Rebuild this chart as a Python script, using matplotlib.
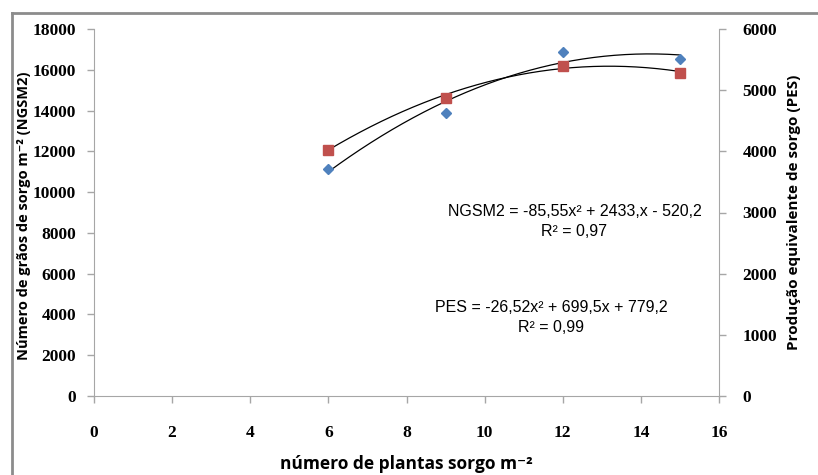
import numpy as np
import matplotlib.pyplot as plt
from matplotlib.lines import Line2D

# plants per m2
plantas = [6, 9, 12, 15]
# number of sorghum grains per m2 (left axis)
ngsm2 = [11130, 13890, 16850, 16510]
# equivalent sorghum production (right axis)
pes = [4020, 4865, 5395, 5285]

# trendline coefficients as printed on the chart
coef_ngsm2 = [-85.55, 2433, -520.2]
coef_pes = [-26.52, 699.5, 779.2]

serif = ['Liberation Serif', 'DejaVu Serif']
narrow = ['Liberation Sans Narrow', 'Liberation Sans', 'DejaVu Sans']
sans = ['Open Sans', 'DejaVu Sans']
grey = '#a6a6a6'

fig = plt.figure(figsize=(8.18, 4.75), dpi=100)
ax = fig.add_axes([94 / 818, 1 - 396 / 475, (719 - 94) / 818, (396 - 29) / 475])
ax2 = ax.twinx()

xs = np.linspace(6, 15, 200)
ax.plot(xs, np.polyval(coef_ngsm2, xs), color='black', lw=0.9, zorder=2)
ax2.plot(xs, np.polyval(coef_pes, xs), color='black', lw=0.9, zorder=2)
ax.plot(plantas, ngsm2, linestyle='none', marker='D', markersize=5.5,
        color='#4f81bd', zorder=3)
ax2.plot(plantas, pes, linestyle='none', marker='s', markersize=7.5,
         color='#c0504d', zorder=3)

ax.set_xlim(0, 16)
ax.set_ylim(0, 18000)
ax2.set_ylim(0, 6000)
ax.set_xticks(range(0, 17, 2))
ax.set_yticks(range(0, 18001, 2000))
ax2.set_yticks(range(0, 6001, 1000))

for a in (ax, ax2):
    for s in a.spines.values():
        s.set_color(grey)
    a.spines['top'].set_visible(False)
    a.tick_params(color=grey, length=5, width=1)
ax.spines['right'].set_visible(False)
ax2.spines['left'].set_visible(False)
ax2.spines['bottom'].set_visible(False)
ax.tick_params(axis='x', pad=16)
ax.tick_params(axis='y', pad=8)
ax2.tick_params(axis='y', pad=12)

for lab in ax.get_xticklabels() + ax.get_yticklabels() + ax2.get_yticklabels():
    lab.set_family(serif)
    lab.set_fontsize(12.5)
    lab.set_fontweight('bold')

ax.set_xlabel('número de plantas sorgo m⁻²', family=sans, fontsize=12.5,
              fontweight='bold', labelpad=10)
ax.set_ylabel('Número de grãos de sorgo m⁻² (NGSM2)', family=sans,
              fontsize=10.5, fontweight='bold')
ax2.set_ylabel('Produção equivalente de sorgo (PES)', family=sans,
               fontsize=11, fontweight='bold')
ax.yaxis.set_label_coords(-0.1, 0.49)
ax2.yaxis.set_label_coords(1.109, 0.5)

ax.text(12.3, 8550, 'NGSM2 = -85,55x² + 2433,x - 520,2\nR² = 0,97',
        ha='center', va='center', family=narrow, fontsize=11.5, linespacing=1.4)
ax.text(11.7, 3850, 'PES = -26,52x² + 699,5x + 779,2\nR² = 0,99',
        ha='center', va='center', family=narrow, fontsize=11.5, linespacing=1.4)

# outer chart frame
fig.add_artist(Line2D([12 / 818, 12 / 818], [0, 1 - 13 / 475],
                      transform=fig.transFigure, color='#8c8c8c', lw=2))
fig.add_artist(Line2D([12 / 818, 1], [1 - 13 / 475, 1 - 13 / 475],
                      transform=fig.transFigure, color='#8c8c8c', lw=2))

plt.savefig('out.png', dpi=100)
